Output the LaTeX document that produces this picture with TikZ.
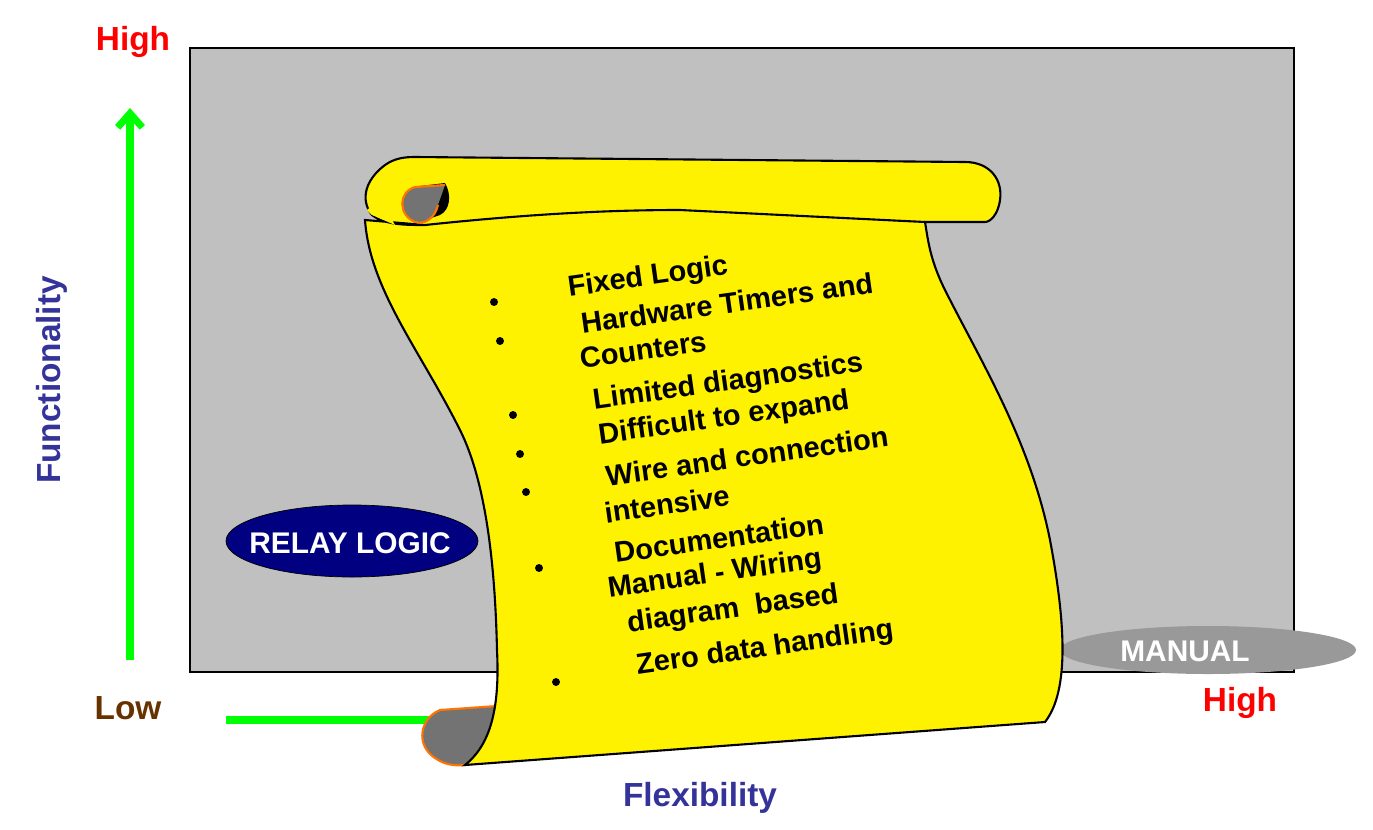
\documentclass[tikz,border=0pt]{standalone}
\usepackage{fontspec}
\setmainfont{Liberation Sans}
\usetikzlibrary{arrows.meta,shapes.geometric}
\begin{document}
\begin{tikzpicture}[x=0.02cm,y=-0.02cm,
 lab/.style={font=\bfseries\fontsize{19}{22}\selectfont},
 itm/.style={font=\bfseries\fontsize{16.5}{18}\selectfont,rotate=8,inner sep=0pt},
 bul/.style={circle,fill=black,inner sep=1.6pt},
 roll/.style={fill=gray!90!black,draw=orange!90!red,line width=1.2pt}]
\useasboundingbox (0,0) rectangle (1373,829);
\node[draw=black,fill={rgb,255:red,192;green,192;blue,192},line width=1pt,minimum width=1104*0.02cm,minimum height=624*0.02cm,inner sep=0] (box) at (742,360) {};
\coordinate (ay0) at (130,660); \coordinate (ay1) at (130,108);
\draw[green,line width=4pt,-{Straight Barb[length=8pt,width=14pt]}] (ay0) -- (ay1);
\coordinate (ax0) at (226,720); \coordinate (ax1) at (500,720);
\draw[green,line width=4pt] (ax0) -- (ax1);
\node[lab,text=red] (h1) at (133,42) {High};
\node[lab,text={rgb,255:red,102;green,51;blue,0}] (lo) at (128,708) {Low};
\node[lab,text=red] (h2) at (1240,703) {High};
\node[lab,text={rgb,255:red,51;green,51;blue,153},rotate=90] (fn) at (52,380) {Functionality};
\node[lab,text={rgb,255:red,51;green,51;blue,153}] (fx) at (700,798) {Flexibility};
\node[ellipse,inner sep=0pt,fill={rgb,255:red,0;green,0;blue,128},draw=black,minimum width=252*0.02cm,minimum height=72*0.02cm] (relay) at (352,541) {};
\node[text=white,font=\bfseries\fontsize{17}{20}\selectfont] (relayt) at (350,543) {RELAY LOGIC};
\node[ellipse,inner sep=0pt,fill={rgb,255:red,153;green,153;blue,153},minimum width=296*0.02cm,minimum height=48*0.02cm] (man) at (1208,650) {};
\node[text=white,font=\bfseries\fontsize{17}{20}\selectfont] (mant) at (1185,651) {MANUAL};
% bottom curl
\draw[roll] (497,706) -- (440,710) .. controls (420,718) and (415,745) .. (435,758) .. controls (445,765) and (455,766) .. (465,765) -- (497,740) -- cycle;
% scroll body
\draw[fill=yellow,line width=1.2pt] (425,225) .. controls (405,225) and (385,225) .. (372,215)
 .. controls (360,200) and (365,180) .. (385,165) .. controls (395,158) and (405,157) .. (415,157)
 -- (965,162) .. controls (990,162) and (1003,180) .. (1000,200) .. controls (998,215) and (990,222) .. (985,222)
 -- (925,222) .. controls (928,240) and (930,260) .. (945,290)
 .. controls (980,360) and (1030,440) .. (1050,540) .. controls (1065,620) and (1070,690) .. (1045,722)
 -- (465,765) .. controls (490,745) and (500,710) .. (497,650)
 .. controls (495,560) and (485,480) .. (460,430) .. controls (420,350) and (370,290) .. (365,220) -- cycle;
\fill[yellow] (367,210) -- (372,215) -- (395,225) -- (380,200) -- cycle;
\draw[line width=1.2pt] (425,225) .. controls (520,215) and (600,210) .. (680,210) -- (925,222);
% top inner roll
\fill[black] (420,186) -- (445,183) .. controls (452,195) and (450,210) .. (440,215) -- (420,222) -- cycle;
\draw[roll] (445,185) -- (415,187) .. controls (398,192) and (398,215) .. (415,222) .. controls (425,225) and (435,218) .. (438,205);
% bullets and text
\foreach \x/\y [count=\i] in {494/302,500/341,513/415,520/454,526/492,539/568,556/682}
  \node[bul] (b\i) at (\x,\y) {};
\node[itm] (t1) at (648,278) {Fixed Logic};
\node[itm] (t2) at (727,303) {Hardware Timers and};
\node[itm] (t3) at (643,350) {Counters};
\node[itm] (t4) at (728,383) {Limited diagnostics};
\node[itm] (t5) at (724,419) {Difficult to expand};
\node[itm] (t6) at (747,456) {Wire and connection};
\node[itm] (t7) at (667,504) {intensive};
\node[itm] (t8) at (719,538) {Documentation};
\node[itm] (t9) at (715,575) {Manual - Wiring};
\node[itm] (t10) at (733,610) {diagram\ \ based};
\node[itm] (t11) at (765,649) {Zero data handling};
\end{tikzpicture}
\end{document}
